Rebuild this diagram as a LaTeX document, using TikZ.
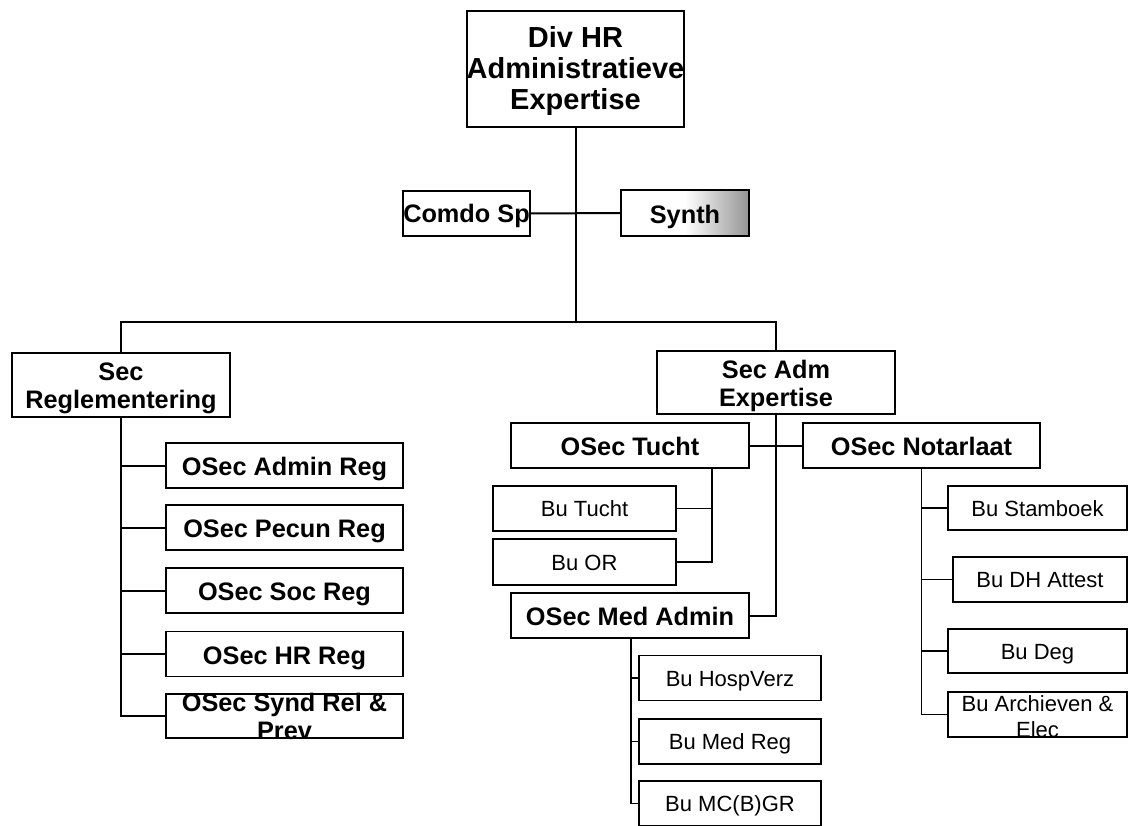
\documentclass[tikz,border=0pt]{standalone}
\usepackage{fontspec}
\setmainfont{Liberation Sans}
\pgfdeclarehorizontalshading{synthshade}{100bp}{color(0bp)=(white); color(25bp)=(white); color(50bp)=(white); color(75bp)=(black!42); color(100bp)=(black!42)}
\newcommand\stk[2][-10pt]{\smash{\raisebox{#1}{\begin{tabular}{@{}c@{}}#2\end{tabular}}}}
\tikzset{
  every node/.style={inner sep=0pt, outer sep=0pt},
  topbox/.style={draw, line width=2.2pt, minimum width=217, minimum height=116,
    font=\fontsize{29}{31}\selectfont\bfseries, text height=0pt, text depth=0pt},
  secbox/.style={draw, line width=2.4pt, font=\fontsize{25.3}{28}\selectfont\bfseries,
    text height=0pt, text depth=0pt},
  obox/.style={draw, line width=1.7pt, minimum width=237, minimum height=45,
    font=\fontsize{25.3}{28}\selectfont\bfseries, text height=20pt, text depth=0pt},
  bubox/.style={draw, line width=1.6pt, minimum height=45,
    font=\fontsize{22}{26}\selectfont, text height=16pt, text depth=0pt},
  stacked/.style={text height=0pt, text depth=0pt},
  conn/.style={line width=2pt},
  lightconn/.style={line width=1.8pt}
}
\begin{document}
\begin{tikzpicture}[x=1pt,y=-1pt]
\useasboundingbox (0,0) rectangle (1129,825);
% top level
\node[topbox] (top) at (575.5,69) {\stk[-10pt]{Div HR\\Administratieve\\Expertise}};
\node[obox, minimum width=127, text height=18pt] (comdo) at (466.5,213.5) {Comdo Sp};
\node[obox, minimum width=128, minimum height=46, shading=synthshade, shade, draw] (synth) at (685,213) {Synth};
% sections
\node[secbox, minimum width=218, minimum height=64] (sreg) at (121,385) {\stk[-10.5pt]{Sec\\Reglementering}};
\node[secbox, minimum width=238, minimum height=63] (sadm) at (776,382.5) {\stk[-10.5pt]{Sec Adm\\Expertise}};
% left column
\node[obox] (oadm) at (284.5,465.5) {OSec Admin Reg};
\node[obox] (opec) at (284.5,527.5) {OSec Pecun Reg};
\node[obox] (osoc) at (284.5,590.5) {OSec Soc Reg};
\node[obox] (ohr)  at (284.5,654) {OSec HR Reg};
\node[obox, minimum height=44, stacked] (osynd) at (284.5,716) {\stk[-10pt]{OSec Synd Rel \&\\Prev}};
% middle
\node[obox, minimum width=238] (otucht) at (630,445.5) {OSec Tucht};
\node[obox] (onot) at (921.5,445.5) {OSec Notarlaat};
\node[bubox, minimum width=183] (butucht) at (584.5,508.5) {Bu Tucht};
\node[bubox, minimum width=183, minimum height=46] (buor) at (584.5,562) {Bu OR};
\node[obox, minimum width=238] (omed) at (630,615.5) {OSec Med Admin};
\node[bubox, minimum width=182] (bhosp) at (730,678) {Bu HospVerz};
\node[bubox, minimum width=182] (bmedreg) at (730,741.5) {Bu Med Reg};
\node[bubox, minimum width=182] (bmc) at (730,803.5) {Bu MC(B)GR};
% right column
\node[bubox, minimum width=179, minimum height=44] (bstam) at (1037.5,508) {Bu Stamboek};
\node[bubox, minimum width=174] (bdh) at (1040,579.5) {Bu DH Attest};
\node[bubox, minimum width=179, minimum height=44] (bdeg) at (1037.5,651) {Bu Deg};
\node[bubox, minimum width=179, stacked] (barch) at (1037.5,714.5) {\stk[-10pt]{Bu Archieven \&\\Elec}};
% connectors
\coordinate (bar) at (575.5,322);
\draw[conn] (top.south) -- (bar);
\draw[conn] (comdo.east) -- (synth.west);
\draw[conn] (sreg.north) |- (bar) -| (sadm.north);
\draw[conn] (sreg.south) |- (osynd.west);
\foreach \n in {oadm,opec,osoc,ohr} \draw[conn] (sreg.south |- \n.west) -- (\n.west);
\draw[conn] (sadm.south) |- (omed.east);
\draw[conn] (otucht.east) -- (onot.west);
\coordinate (tj) at (712,468);
\draw[lightconn] (tj) |- (buor.east);
\draw[lightconn] (tj |- butucht.east) -- (butucht.east);
\coordinate (mj) at (631,638);
\draw[lightconn] (mj) |- (bmc.west);
\foreach \n in {bhosp,bmedreg} \draw[lightconn] (mj |- \n.west) -- (\n.west);
\draw[lightconn] (onot.south) |- (barch.west);
\foreach \n in {bstam,bdh,bdeg} \draw[lightconn] (onot.south |- \n.west) -- (\n.west);
\end{tikzpicture}
\end{document}
